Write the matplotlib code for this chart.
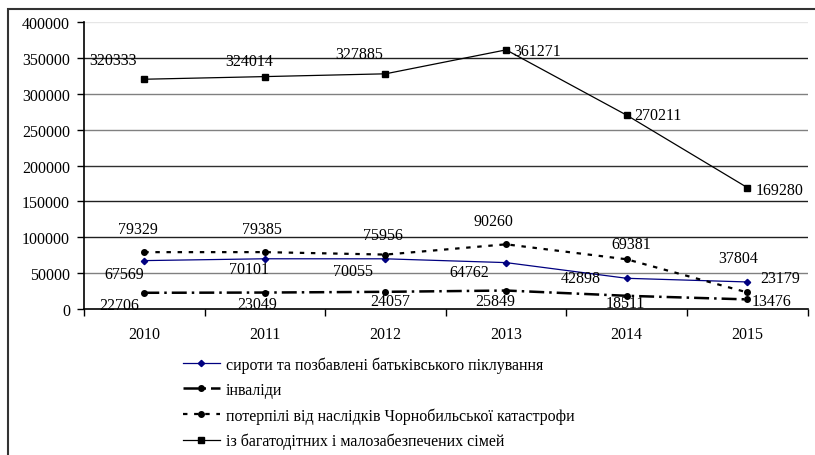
import matplotlib.pyplot as plt
from matplotlib.patches import Rectangle

plt.rcParams['font.family'] = ['Liberation Serif', 'DejaVu Serif']

years = ['2010', '2011', '2012', '2013', '2014', '2015']

# series values
orphans = [67569, 70101, 70055, 64762, 42898, 37804]
disabled = [22706, 23049, 24057, 25849, 18511, 13476]
chornobyl = [79329, 79385, 75956, 90260, 69381, 23179]
large_families = [320333, 324014, 327885, 361271, 270211, 169280]

labels = ['сироти та позбавлені батьківського піклування',
          'інваліди',
          'потерпілі від наслідків Чорнобильської катастрофи',
          'із багатодітних і малозабезпечених сімей']

# label offsets in pixels (dx, dy) for each point, as in the original picture
off_orphans = [(-20, -13), (-16, -10), (-32, -12), (-37, -9), (-46, 0), (-9, 24)]
off_disabled = [(-25, -12), (-8, -11), (5, -9), (-11, -10), (-1, -7), (24, -2)]
off_chornobyl = [(-6, 23), (-3, 23), (-3, 20), (-13, 23), (5, 15), (33, 14)]
off_large = [(-31, 19), (-16, 16), (-26, 20), (31, -1), (31, 0), (32, -2)]

FS = 11.5

fig = plt.figure(figsize=(8.15, 4.56), dpi=100)
ax = fig.add_axes([0.103, 0.320, 0.888, 0.6294])

x = list(range(len(years)))

# gridlines
grid_cols = ['#808080', '#202020', '#202020', '#303030', '#808080', '#808080', '#202020', '#e6e6e6']
for v, c in zip(range(50000, 400001, 50000), grid_cols):
    ax.axhline(v, color=c, lw=1.0, zorder=1)

l1, = ax.plot(x, orphans, color='#000080', lw=0.9, marker='D', ms=3.2, zorder=3)
l2, = ax.plot(x, disabled, color='black', lw=1.8, ls=(0, (6, 2, 1, 2)),
              marker='o', ms=4, zorder=3)
l3, = ax.plot(x, chornobyl, color='black', lw=1.6, ls=(0, (2, 3)),
              marker='o', ms=4, zorder=3)
l4, = ax.plot(x, large_families, color='black', lw=0.9, marker='s', ms=4.5, zorder=3)

for vals, offs in [(orphans, off_orphans), (disabled, off_disabled),
                   (chornobyl, off_chornobyl), (large_families, off_large)]:
    for xi, v, (dx, dy) in zip(x, vals, offs):
        ax.annotate(str(v), (xi, v), xytext=(dx, dy), textcoords='offset pixels',
                    ha='center', va='center', fontsize=FS, zorder=4)

ax.set_xlim(-0.5, 5.5)
ax.set_ylim(0, 400000)
ax.set_yticks(range(0, 400001, 50000))
ax.set_yticklabels([str(v) for v in range(0, 400001, 50000)], fontsize=FS)
ax.set_xticks(x)
ax.set_xticklabels(years, fontsize=FS)
ax.set_xticks([i - 0.5 for i in range(len(years) + 1)], minor=True)
ax.tick_params(axis='x', which='major', length=0, pad=12)
ax.tick_params(axis='x', which='minor', length=5, direction='out', width=1)
ax.tick_params(axis='y', length=5, width=1, direction='out', pad=5)
for s in ['top', 'right']:
    ax.spines[s].set_visible(False)
for s in ['left', 'bottom']:
    ax.spines[s].set_linewidth(1.2)
    ax.spines[s].set_color('black')

fig.legend([l1, l2, l3, l4], labels, loc='upper left',
           bbox_to_anchor=(183 / 815, 1 - 357 / 456), frameon=False,
           fontsize=FS, handlelength=2.3, handletextpad=0.4,
           labelspacing=0.58, borderpad=0, borderaxespad=0)

# outer chart frame
fig.add_artist(Rectangle((8 / 815, -0.05), 1.0, 1 - 10 / 456 + 0.05,
                         transform=fig.transFigure, fill=False,
                         lw=1.5, edgecolor='#333333'))

fig.savefig('out.png', dpi=100)
